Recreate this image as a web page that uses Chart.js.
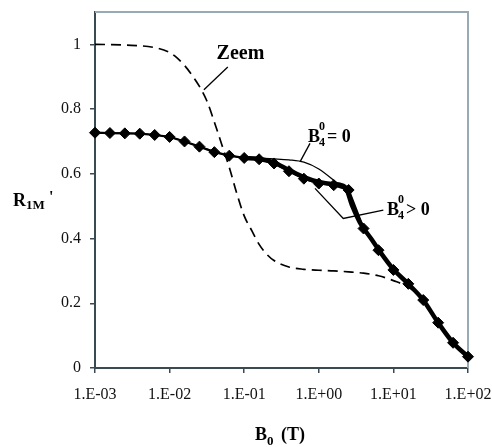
<!DOCTYPE html>
<html>
<head>
<meta charset="utf-8">
<script src="https://cdn.jsdelivr.net/npm/chart.js@4"></script>
<style>
  html, body { margin: 0; padding: 0; background: #fff; }
</style>
</head>
<body>
<canvas id="chart" width="492" height="447"></canvas>
<script>
// --- data (x given as log10 of B0 in tesla) ---
const markerLogB = [-3, -2.8, -2.6, -2.4, -2.2, -2, -1.8, -1.6, -1.4, -1.2, -1, -0.8, -0.6,
                    -0.4, -0.2, 0, 0.2, 0.4, 0.6, 0.8, 1, 1.2, 1.4, 1.6, 1.8, 2];
const markerR = [0.727, 0.726, 0.725, 0.724, 0.72, 0.714, 0.70, 0.684, 0.667, 0.656, 0.649, 0.645, 0.632,
                 0.608, 0.585, 0.570, 0.565, 0.550, 0.431, 0.364, 0.303, 0.260, 0.210, 0.140, 0.078, 0.035];

// B4(0) > 0 : heavy curve
const thickLogB = [-1, -0.8, -0.6, -0.4, -0.2, 0, 0.2, 0.35, 0.45, 0.55, 0.7, 0.8, 1, 1.2, 1.4, 1.6, 1.8, 2];
const thickR = [0.649, 0.646, 0.635, 0.612, 0.590, 0.575, 0.568, 0.560, 0.500, 0.450, 0.400, 0.366, 0.305, 0.260, 0.210, 0.140, 0.078, 0.035];

// B4(0) = 0 : thin curve
const thinLogB = [-3, -2.4, -2, -1.6, -1.2, -1, -0.8, -0.6, -0.4, -0.2, 0, 0.2, 0.35, 0.5, 0.6, 0.8, 1];
const thinR = [0.727, 0.724, 0.714, 0.684, 0.656, 0.650, 0.648, 0.646, 0.643, 0.636, 0.615, 0.580, 0.550, 0.480, 0.435, 0.365, 0.303];

// Zeeman only : dashed curve
const zeemLogB = [-3, -2.6, -2.2, -2, -1.9, -1.8, -1.7, -1.6, -1.5, -1.4, -1.3, -1.2, -1.1, -1, -0.9, -0.8,
                  -0.7, -0.6, -0.4, -0.2, 0, 0.2, 0.4, 0.6, 0.8, 1, 1.2, 1.4, 1.6, 1.8, 2];
const zeemR = [1.0, 0.998, 0.99, 0.975, 0.958, 0.935, 0.905, 0.87, 0.825, 0.76, 0.69, 0.62, 0.54, 0.47, 0.425, 0.382,
               0.352, 0.332, 0.312, 0.305, 0.302, 0.300, 0.297, 0.293, 0.285, 0.270, 0.250, 0.210, 0.140, 0.078, 0.035];

const xTicks = [1e-3, 1e-2, 1e-1, 1, 10, 100];
const yTicks = [0, 0.2, 0.4, 0.6, 0.8, 1];

const toPoints = (logs, vals) => logs.map((l, i) => ({ x: Math.pow(10, l), y: vals[i] }));

function sciLabel(v) {
    const e = Math.round(Math.log10(v));
    const sign = e < 0 ? '-' : '+';
    return '1.E' + sign + String(Math.abs(e)).padStart(2, '0');
}

const serif = "'Liberation Serif', 'DejaVu Serif', serif";
const axisDark = '#3b4a51';

// frame on the top and right sides (light steel blue like the original)
const framePlugin = {
    id: 'frame',
    beforeDatasetsDraw(chart) {
        const { ctx, chartArea: a } = chart;
        ctx.save();
        ctx.strokeStyle = '#97abb5';
        ctx.lineWidth = 2;
        ctx.beginPath();
        ctx.moveTo(a.left, a.top);
        ctx.lineTo(a.right, a.top);
        ctx.lineTo(a.right, a.bottom);
        ctx.stroke();
        ctx.restore();
    }
};

// --- labels: axis titles and curve annotations ---
function labelB(ctx, x, base, sub, sup, rest) {
    ctx.font = 'bold 18px ' + serif;
    ctx.fillText('B', x, base);
    const bw = ctx.measureText('B').width;
    ctx.font = 'bold 12px ' + serif;
    ctx.fillText(sup, x + bw - 1, base - 12);
    ctx.fillText(sub, x + bw - 1, base + 4);
    ctx.font = 'bold 18px ' + serif;
    ctx.fillText(rest, x + bw + 7, base);
}

const notesPlugin = {
    id: 'notes',
    afterDraw(chart) {
        const { ctx } = chart;
        const sx = chart.scales.x, sy = chart.scales.y;
        const px = l => sx.getPixelForValue(Math.pow(10, l));
        const py = v => sy.getPixelForValue(v);
        ctx.save();
        ctx.fillStyle = '#000';
        ctx.strokeStyle = '#000';
        ctx.lineWidth = 1.3;
        ctx.textBaseline = 'alphabetic';

        // y title R1M'
        ctx.font = 'bold 18px ' + serif;
        ctx.fillText('R', 13, 206);
        ctx.font = 'bold 13px ' + serif;
        ctx.fillText('1M', 26, 209);
        ctx.font = 'bold 16px ' + serif;
        ctx.fillText("'", 49, 202);

        // x title B0 (T)
        ctx.font = 'bold 18px ' + serif;
        ctx.fillText('B', 255, 440);
        ctx.font = 'bold 13px ' + serif;
        ctx.fillText('0', 267, 445);
        ctx.font = 'bold 18px ' + serif;
        ctx.fillText('(T)', 281, 440);

        // Zeem
        ctx.font = 'bold 20px ' + serif;
        ctx.fillText('Zeem', px(-1.37), py(0.954));
        ctx.beginPath();
        ctx.moveTo(px(-1.22), py(0.93));
        ctx.lineTo(px(-1.54), py(0.86));
        ctx.stroke();

        // B4(0) = 0
        labelB(ctx, px(-0.145), py(0.698), '4', '0', '= 0');
        ctx.beginPath();
        ctx.moveTo(px(-0.118), py(0.694));
        ctx.lineTo(px(-0.252), py(0.637));
        ctx.stroke();

        // B4(0) > 0
        labelB(ctx, px(0.914), py(0.472), '4', '0', '> 0');
        ctx.beginPath();
        ctx.moveTo(px(0.865), py(0.488));
        ctx.lineTo(px(0.328), py(0.462));
        ctx.lineTo(px(-0.051), py(0.555));
        ctx.stroke();
        ctx.restore();
    }
};

new Chart(document.getElementById('chart'), {
    type: 'scatter',
    data: {
        datasets: [
            {
                label: 'R1M',
                data: toPoints(markerLogB, markerR),
                showLine: true,
                borderColor: '#000', backgroundColor: '#000',
                borderWidth: 2.2,
                pointStyle: 'rectRot', pointRadius: 5.5, pointBorderWidth: 1,
                tension: 0, clip: false
            },
            {
                label: 'B4 > 0',
                data: toPoints(thickLogB, thickR),
                showLine: true,
                borderColor: '#000', borderWidth: 4.5,
                pointRadius: 0, cubicInterpolationMode: 'monotone', clip: false
            },
            {
                label: 'B4 = 0',
                data: toPoints(thinLogB, thinR),
                showLine: true,
                borderColor: '#000', borderWidth: 1.3,
                pointRadius: 0, cubicInterpolationMode: 'monotone'
            },
            {
                label: 'Zeem',
                data: toPoints(zeemLogB, zeemR),
                showLine: true,
                borderColor: '#000', borderWidth: 1.7, borderDash: [10, 6],
                pointRadius: 0, cubicInterpolationMode: 'monotone', clip: false
            }
        ]
    },
    options: {
        responsive: false, animation: false, devicePixelRatio: 1,
        layout: { padding: { top: 12, right: 24, left: 0, bottom: 0 } },
        plugins: { legend: { display: false }, tooltip: { enabled: false } },
        scales: {
            x: {
                type: 'logarithmic', min: 1e-3, max: 1e2,
                afterBuildTicks: s => { s.ticks = xTicks.map(v => ({ value: v })); },
                afterFit: s => { s.height = 79; s.paddingLeft = 0; s.paddingRight = 0; },
                ticks: { callback: v => sciLabel(v), color: '#111', font: { family: serif, size: 16 },
                         padding: 12, maxRotation: 0, autoSkip: false },
                grid: { drawOnChartArea: false, tickLength: 5, tickColor: axisDark, lineWidth: 1.5 },
                border: { color: axisDark, width: 2 }
            },
            y: {
                min: 0, max: 1.1,
                afterBuildTicks: s => { s.ticks = yTicks.map(v => ({ value: v })); },
                afterFit: s => { s.width = 95; s.paddingTop = 0; s.paddingBottom = 0; },
                ticks: { callback: v => String(v), color: '#111', font: { family: serif, size: 16 }, padding: 9 },
                grid: { drawOnChartArea: false, tickLength: 5, tickColor: axisDark, lineWidth: 1.5 },
                border: { color: axisDark, width: 2 }
            }
        }
    },
    plugins: [framePlugin, notesPlugin]
});
</script>
</body>
</html>
